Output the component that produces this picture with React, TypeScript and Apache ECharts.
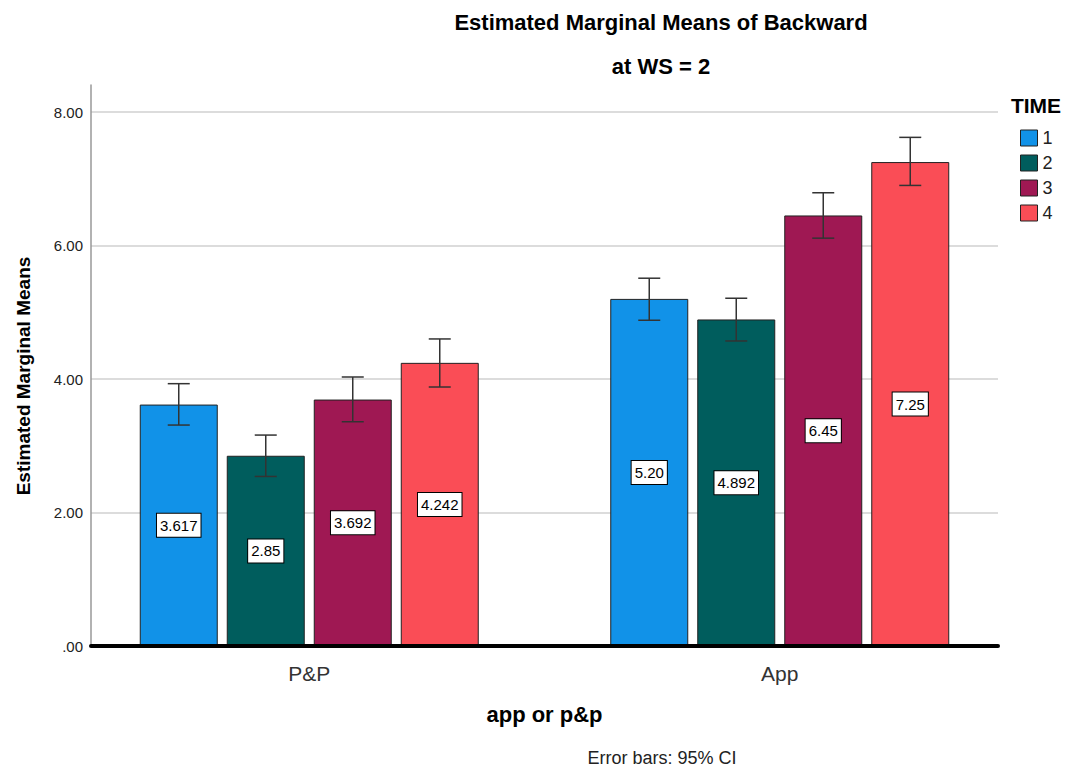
import React, { useEffect, useRef } from 'react';
import * as echarts from 'echarts';

const categories = ['P&P', 'App'];
const timeGroups = ['1', '2', '3', '4'];
const colors = ['#1192e8', '#005d5d', '#9f1853', '#fa4d56'];
// means per TIME group: [P&P, App]
const time1 = [3.617, 5.2];
const time2 = [2.85, 4.892];
const time3 = [3.692, 6.45];
const time4 = [4.242, 7.25];
const means = [time1, time2, time3, time4];
const meanLabels = [
  ['3.617', '5.20'],
  ['2.85', '4.892'],
  ['3.692', '6.45'],
  ['4.242', '7.25'],
];
// 95% CI bounds per TIME group: [P&P, App]
const ciLow = [
  [3.31, 4.88],
  [2.54, 4.57],
  [3.36, 6.11],
  [3.88, 6.9],
];
const ciHigh = [
  [3.93, 5.51],
  [3.16, 5.21],
  [4.03, 6.79],
  [4.6, 7.62],
];
const yTicks = [0, 2, 4, 6, 8];

const FONT = '"Liberation Sans", Arial, sans-serif';
const BAR_W = 78;
const BAR_GAP = 9;

export default function App() {
  const ref = useRef<HTMLDivElement>(null);
  useEffect(() => {
    if (!ref.current) return;
    const chart = echarts.init(ref.current, undefined, { renderer: 'svg' });
    const barSeries = timeGroups.map((g, i) => ({
      type: 'bar',
      name: g,
      xAxisIndex: 0,
      yAxisIndex: 0,
      data: means[i],
      barWidth: BAR_W,
      barGap: `${(BAR_GAP / BAR_W) * 100}%`,
      itemStyle: { color: colors[i], borderColor: '#222', borderWidth: 1 },
      label: {
        show: true,
        position: 'inside',
        formatter: (p: any) => meanLabels[i][p.dataIndex],
        backgroundColor: '#fff',
        borderColor: '#000',
        borderWidth: 1,
        padding: [4, 3],
        fontSize: 15,
        color: '#000',
        fontFamily: FONT,
      },
      z: 2,
    }));
    const errSeries = timeGroups.map((g, i) => ({
      type: 'custom',
      name: 'err' + g,
      xAxisIndex: 0,
      yAxisIndex: 0,
      data: categories.map((_, j) => [j, ciLow[i][j], ciHigh[i][j]]),
      encode: { x: 0, y: [1, 2] },
      z: 10,
      renderItem: (params: any, api: any) => {
        const off = (i - 1.5) * (BAR_W + BAR_GAP);
        const lo = api.coord([api.value(0), api.value(1)]);
        const hi = api.coord([api.value(0), api.value(2)]);
        const cx = lo[0] + off;
        const cap = 11;
        const style = { stroke: '#333', lineWidth: 1.5 };
        return {
          type: 'group',
          children: [
            { type: 'line', shape: { x1: cx, y1: lo[1], x2: cx, y2: hi[1] }, style },
            { type: 'line', shape: { x1: cx - cap, y1: lo[1], x2: cx + cap, y2: lo[1] }, style },
            { type: 'line', shape: { x1: cx - cap, y1: hi[1], x2: cx + cap, y2: hi[1] }, style },
          ],
        };
      },
    }));
    const yMax = (646 - 85) / ((646 - 112) / 8);
    chart.setOption({
      animation: false,
      backgroundColor: '#fff',
      grid: [
        { left: 74, right: 52, top: 85, bottom: 123 },
        { left: 91, right: 69, top: 85, bottom: 123 },
      ],
      xAxis: [
        {
          gridIndex: 0,
          type: 'category',
          data: categories,
          axisLine: { show: false },
          axisTick: { show: false },
          axisLabel: { fontSize: 21, color: '#333', margin: 17, fontFamily: FONT },
        },
        {
          gridIndex: 1,
          type: 'category',
          data: categories,
          z: 5,
          axisLine: { show: true, lineStyle: { color: '#000', width: 4 } },
          axisTick: { show: false },
          axisLabel: { show: false },
          splitLine: { show: false },
          name: 'app or p&p',
          nameLocation: 'middle',
          nameGap: 57,
          nameTextStyle: { fontWeight: 'bold', fontSize: 22, color: '#000', fontFamily: FONT },
        },
      ],
      yAxis: [
        { gridIndex: 0, type: 'value', min: 0, max: yMax, show: false },
        {
          gridIndex: 1,
          type: 'value',
          min: 0,
          max: yMax,
          interval: 2,
          axisLine: { show: true, lineStyle: { color: '#999', width: 1.5 } },
          axisTick: { show: false },
          splitLine: { show: true, showMaxLine: false, lineStyle: { color: '#d0d0d0', width: 1.5 } },
          axisLabel: {
            fontSize: 15,
            color: '#222',
            margin: 8,
            fontFamily: FONT,
            formatter: (v: number) => {
              const t = yTicks.find((k) => Math.abs(k - v) < 1e-6);
              if (t === undefined) return '';
              return t === 0 ? '.00' : t.toFixed(2);
            },
          },
        },
      ],
      legend: {
        data: timeGroups,
        orient: 'vertical',
        left: 1020,
        top: 129,
        itemWidth: 17,
        itemHeight: 16,
        itemGap: 7,
        padding: 0,
        icon: 'rect',
        itemStyle: { borderColor: '#222', borderWidth: 1 },
        textStyle: { fontSize: 18, color: '#222', fontFamily: FONT },
      },
      graphic: [
        {
          type: 'text',
          x: 661,
          y: 22,
          style: {
            text: 'Estimated Marginal Means of Backward',
            font: `bold 22px ${FONT}`,
            fill: '#000',
            textAlign: 'center',
            textVerticalAlign: 'middle',
          },
        },
        {
          type: 'text',
          x: 661,
          y: 66,
          style: {
            text: 'at WS = 2',
            font: `bold 22px ${FONT}`,
            fill: '#000',
            textAlign: 'center',
            textVerticalAlign: 'middle',
          },
        },
        {
          type: 'text',
          x: 23,
          y: 376,
          rotation: Math.PI / 2,
          style: {
            text: 'Estimated Marginal Means',
            font: `bold 19px ${FONT}`,
            fill: '#000',
            textAlign: 'center',
            textVerticalAlign: 'middle',
          },
        },
        {
          type: 'text',
          x: 1036,
          y: 105,
          style: {
            text: 'TIME',
            font: `bold 21px ${FONT}`,
            fill: '#000',
            textAlign: 'center',
            textVerticalAlign: 'middle',
          },
        },
        {
          type: 'text',
          x: 662,
          y: 758,
          style: {
            text: 'Error bars: 95% CI',
            font: `18px ${FONT}`,
            fill: '#222',
            textAlign: 'center',
            textVerticalAlign: 'middle',
          },
        },
      ],
      series: [...barSeries, ...errSeries],
    });
    return () => chart.dispose();
  }, []);
  return (
    <div
      ref={ref}
      style={{ position: 'fixed', left: 0, top: 0, width: 1067, height: 769, background: '#fff' }}
    />
  );
}
